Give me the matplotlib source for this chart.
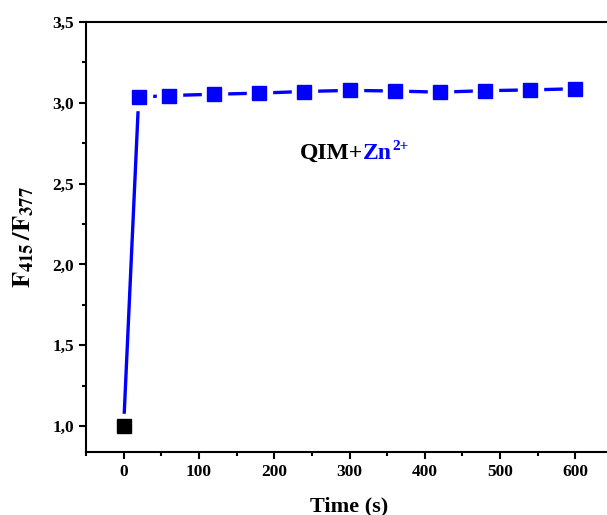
import matplotlib
matplotlib.use('Agg')
import matplotlib.pyplot as plt
from matplotlib.ticker import MultipleLocator, FuncFormatter

time_s = [0, 20, 60, 120, 180, 240, 300, 360, 420, 480, 540, 600]
ratio = [1.0, 3.035, 3.045, 3.053, 3.06, 3.07, 3.077, 3.073, 3.066, 3.075, 3.08, 3.087]

plt.rcParams['font.family'] = 'Liberation Serif'
plt.rcParams['font.weight'] = 'bold'
plt.rcParams['mathtext.fontset'] = 'stix'

fig = plt.figure(figsize=(6.07, 5.15), dpi=100)
ax = fig.add_axes([86 / 607, 1 - 452 / 515, 527 / 607, (452 - 22) / 515])

blue = '#0000ff'
# line with gaps around the markers (origin style)
ax.plot(time_s, ratio, color=blue, lw=2.4, zorder=2, solid_capstyle='round')
ax.plot(time_s, ratio, ls='none', marker='s', ms=18, mfc='white', mec='white', zorder=3)
ax.plot(time_s[1:], ratio[1:], ls='none', marker='s', ms=10.5, mfc=blue, mec=blue, zorder=4)
ax.plot(time_s[:1], ratio[:1], ls='none', marker='s', ms=10.5, mfc='black', mec='black', zorder=4)

ax.set_xlim(-50, 650)
ax.set_ylim(0.84, 3.5)
ax.xaxis.set_major_locator(MultipleLocator(100))
ax.xaxis.set_minor_locator(MultipleLocator(50))
ax.yaxis.set_major_locator(MultipleLocator(0.5))
ax.yaxis.set_minor_locator(MultipleLocator(0.25))
ax.yaxis.set_major_formatter(FuncFormatter(lambda v, p: f'{v:.1f}'.replace('.', ',')))
ax.tick_params(which='both', direction='out', width=1.5, labelsize=12.5)
ax.tick_params(which='major', length=5)
ax.tick_params(which='minor', length=3)
for s in ax.spines.values():
    s.set_linewidth(1.5)
ax.spines['right'].set_visible(False)

ax.set_xlabel('Time (s)', fontsize=16, fontweight='bold', labelpad=12)
ax.set_ylabel(r'$\mathbf{F_{415}\,/F_{377}}$', fontsize=19, labelpad=12)

# label: black "QIM+" then blue "Zn" with superscript "2+"
t = ax.text(234, 2.655, 'QIM+', fontsize=17, fontweight='bold', color='black', va='baseline')
z = ax.annotate('Zn', xy=(1, 0), xycoords=t, fontsize=17, fontweight='bold', color=blue,
                va='bottom', ha='left')
ax.annotate('2+', xy=(1, 0.5), xycoords=z, fontsize=11, fontweight='bold',
            color=blue, va='bottom', ha='left')

fig.savefig('out.png', dpi=100)
